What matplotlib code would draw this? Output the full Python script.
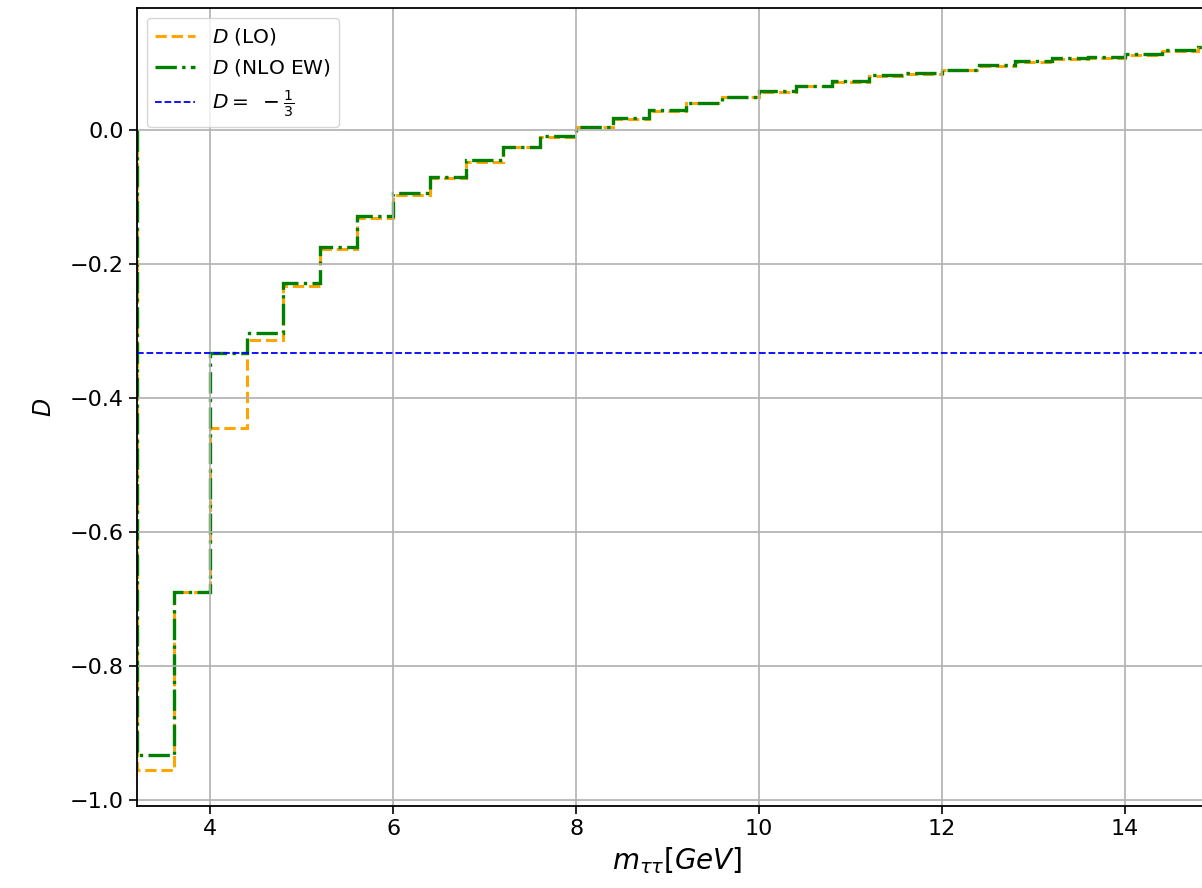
import matplotlib
matplotlib.use('Agg')
import matplotlib.pyplot as plt
import numpy as np

# bin edges in m_tautau (GeV)
edges = np.round(np.arange(3.2, 15.21, 0.4), 2)

D_lo = [-0.955, -0.690, -0.445, -0.313, -0.233, -0.178, -0.132, -0.097,
        -0.071, -0.047, -0.026, -0.010, 0.004, 0.017, 0.029, 0.040,
        0.049, 0.057, 0.065, 0.072, 0.081, 0.084, 0.089, 0.096,
        0.102, 0.106, 0.108, 0.112, 0.118, 0.123]
D_nlo = [-0.933, -0.690, -0.333, -0.303, -0.229, -0.175, -0.128, -0.094,
         -0.070, -0.045, -0.025, -0.009, 0.005, 0.018, 0.030, 0.041,
         0.050, 0.058, 0.066, 0.073, 0.082, 0.085, 0.090, 0.097,
         0.103, 0.107, 0.109, 0.113, 0.119, 0.124]
D_ref = -1 / 3

fig = plt.figure(figsize=(12.02, 8.88), dpi=100)
ax = fig.add_axes([0.114, 0.0923, 0.898, 0.8986])

ax.stairs(D_lo, edges, baseline=0, color='orange', linestyle='--', lw=2.2,
          label=r'$D$ (LO)')
ax.stairs(D_nlo, edges, baseline=0, color='green', linestyle='-.', lw=2.4,
          label=r'$D$ (NLO EW)')
ax.axhline(D_ref, color='blue', linestyle='--', lw=1.3,
           label=r'$D =\ -\frac{1}{3}$')

ax.set_xlim(3.2, 15.0)
ax.set_ylim(-1.009, 0.182)
ax.set_xticks([4, 6, 8, 10, 12, 14])
ax.set_yticks([-1.0, -0.8, -0.6, -0.4, -0.2, 0.0])
ax.tick_params(labelsize=16, length=6, width=1.2)
for s in ax.spines.values():
    s.set_linewidth(1.3)
ax.grid(color='#b0b0b0', lw=1.2)

ax.set_xlabel(r'$m_{\tau\tau} [GeV]$', fontsize=20, labelpad=4)
ax.set_ylabel(r'$D$', fontsize=17, labelpad=10)
ax.legend(loc='upper left', fontsize=14.5, handlelength=2.0)

plt.savefig('out.png')
